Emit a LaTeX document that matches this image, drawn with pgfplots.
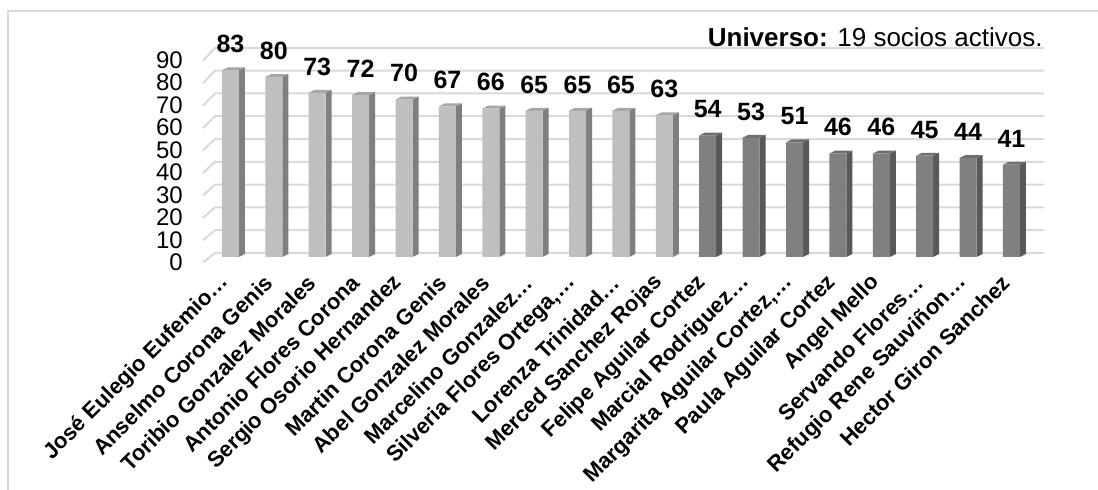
\documentclass[border=0pt]{standalone}
\usepackage{pgfplots}
\pgfplotsset{compat=1.18}
\usepackage{fontspec}
\setmainfont{Liberation Sans}
\definecolor{lightfront}{HTML}{BFBFBF}
\definecolor{lightside}{HTML}{7F7F7F}
\definecolor{lighttop}{HTML}{A6A6A6}
\definecolor{darkfront}{HTML}{808080}
\definecolor{darkside}{HTML}{595959}
\definecolor{darktop}{HTML}{6E6E6E}
\definecolor{gridc}{HTML}{D9D9D9}
\newcommand{\tr}{\hspace{-6.5pt}}
\begin{document}
\begin{tikzpicture}
\path[use as bounding box] (0pt,0pt) rectangle (549pt,245pt);
\draw[gridc, line width=1pt] (3.75pt,0pt) -- (3.75pt,239.5pt) -- (549pt,239.5pt);
\node[anchor=base east, inner sep=0pt, font=\fontsize{13}{15}\selectfont] at (521.5pt,221.5pt) {\textbf{Universo:} 19 socios activos.};
\begin{axis}[
  at={(100.05pt,116.5pt)}, anchor=south west,
  scale only axis, width=421.95pt, height=101.25pt,
  xmin=-0.7, xmax=18.75, ymin=0, ymax=90,
  clip=false,
  axis line style={draw=none},
  major tick length=0pt,
  /pgf/number format/assume math mode=true,
  ytick={0,10,...,90},
  yticklabel style={font=\fontsize{12}{12}\selectfont, anchor=east, inner sep=0pt, xshift=-8.5pt, yshift=-2.8pt},
  xtick={0,1,...,18},
  xticklabels={José Eulegio Eufemio…\tr, Anselmo Corona Genis, Toribio Gonzalez Morales, Antonio Flores Corona, Sergio Osorio Hernandez, Martin Corona Genis, Abel Gonzalez Morales, Marcelino Gonzalez…\tr, {Silveria Flores Ortega,…\tr}, Lorenza Trinidad…\tr, Merced Sanchez Rojas, Felipe Aguilar Cortez, Marcial Rodriguez…\tr, {Margarita Aguilar Cortez,…\tr}, Paula Aguilar Cortez, Angel Mello, Servando Flores…\tr, Refugio Rene Sauviñon…\tr, Hector Giron Sanchez},
  xticklabel style={font=\bfseries\fontsize{11}{11}\selectfont, inner sep=0pt, xshift=-2.5pt, yshift=-11pt, rotate=45, anchor=east},
]
% gridlines (back wall + floor diagonal)
\foreach \g in {0,10,...,90} {
  \pgfmathsetmacro\yf{0.997*\g-2.53}
  \pgfmathsetmacro\yb{1.013*\g+1.78}
  \edef\temp{\noexpand\addplot[gridc, line width=1pt, forget plot] coordinates {(-0.634,\yf) (-0.357,\yb) (18.75,\yb)};}
  \temp
}
% side and top faces
\foreach \i/\v in {0/83,1/80,2/73,3/72,4/70,5/67,6/66,7/65,8/65,9/65,10/63} {
  \pgfmathsetmacro\xl{\i-0.196}
  \pgfmathsetmacro\xa{\i+0.196}
  \pgfmathsetmacro\xb{\i+0.334}
  \pgfmathsetmacro\xc{\i-0.058}
  \pgfmathsetmacro\yt{\v+1.33}
  \edef\temp{\noexpand\addplot[fill=lightside, draw=none, forget plot] coordinates {(\xa,0) (\xb,1.33) (\xb,\yt) (\xa,\v)};
  \noexpand\addplot[fill=lighttop, draw=none, forget plot] coordinates {(\xl,\v) (\xa,\v) (\xb,\yt) (\xc,\yt)};}
  \temp
}
\foreach \i/\v in {11/54,12/53,13/51,14/46,15/46,16/45,17/44,18/41} {
  \pgfmathsetmacro\xl{\i-0.196}
  \pgfmathsetmacro\xa{\i+0.196}
  \pgfmathsetmacro\xb{\i+0.334}
  \pgfmathsetmacro\xc{\i-0.058}
  \pgfmathsetmacro\yt{\v+1.33}
  \edef\temp{\noexpand\addplot[fill=darkside, draw=none, forget plot] coordinates {(\xa,0) (\xb,1.33) (\xb,\yt) (\xa,\v)};
  \noexpand\addplot[fill=darktop, draw=none, forget plot] coordinates {(\xl,\v) (\xa,\v) (\xb,\yt) (\xc,\yt)};}
  \temp
}
% front faces
\addplot[ybar, bar width=8.5pt, bar shift=0pt, fill=lightfront, draw=none,
  nodes near coords,
  nodes near coords style={font=\bfseries\fontsize{12.5}{13}\selectfont, anchor=south, inner sep=0pt, yshift=8.5pt, /pgf/number format/assume math mode=true}]
  coordinates {(0,83) (1,80) (2,73) (3,72) (4,70) (5,67) (6,66) (7,65) (8,65) (9,65) (10,63)};
\addplot[ybar, bar width=8.5pt, bar shift=0pt, fill=darkfront, draw=none,
  nodes near coords,
  nodes near coords style={font=\bfseries\fontsize{12.5}{13}\selectfont, anchor=south, inner sep=0pt, yshift=8.5pt, /pgf/number format/assume math mode=true}]
  coordinates {(11,54) (12,53) (13,51) (14,46) (15,46) (16,45) (17,44) (18,41)};
\end{axis}
\end{tikzpicture}
\end{document}
